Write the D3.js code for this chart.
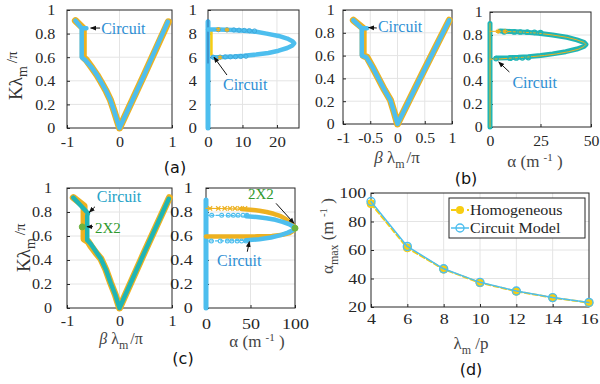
<!DOCTYPE html>
<html>
<head>
<meta charset="utf-8">
<script src="https://cdn.jsdelivr.net/npm/d3@7"></script>
<style>
  body { margin: 0; background: #fff; }
  svg { display: block; }
</style>
</head>
<body>
<svg id="fig" width="600" height="384"></svg>
<script>
// ---------------- data ----------------
const kTicks = [0, 0.2, 0.4, 0.6, 0.8, 1];

// (a) dispersion  (beta*lam_m/pi , K*lam_m/pi)
const aHomBeta = [-0.84, -0.69, -0.69, -0.63, -0.54, -0.43, -0.35, -0.25, -0.175, -0.10, -0.05, 0, 0.46, 0.93];
const aHomK    = [0.91, 0.845, 0.60, 0.575, 0.52, 0.45, 0.39, 0.31, 0.24, 0.14, 0.07, 0, 0.44, 0.90];
const aCirBeta = [-0.84, -0.72, -0.63, -0.72, -0.72, -0.65, -0.54, -0.43, -0.35, -0.25, -0.175, -0.10, -0.05, 0, 0.46, 0.92];
const aCirK    = [0.91, 0.845, 0.845, 0.845, 0.60, 0.575, 0.52, 0.45, 0.39, 0.31, 0.24, 0.14, 0.07, 0, 0.44, 0.90];
// (a) attenuation lobe (alpha, K)
const aLobeA = [0, 3, 7, 10.5, 14, 17, 20.5, 23, 24.5, 25, 24.5, 23, 20.5, 17.5, 14, 10.5, 7.5, 4.5, 1.5];
const aLobeK = [0.834, 0.834, 0.831, 0.825, 0.815, 0.800, 0.780, 0.758, 0.736, 0.718, 0.700, 0.678, 0.655, 0.636, 0.622, 0.612, 0.606, 0.602, 0.600];
const aMarkA = [3, 5.5, 7.5, 9, 10.5, 12, 13.5, 1.5, 3.5, 5, 6.5, 8, 9.5, 11];
const aMarkK = [0.833, 0.832, 0.831, 0.829, 0.827, 0.825, 0.822, 0.600, 0.601, 0.602, 0.603, 0.604, 0.606, 0.608];
const aStarA = [3, 5.5, 3.5];
const aStarK = [0.836, 0.832, 0.598];

// (b) dispersion
const bHomBeta = [-0.81, -0.63, -0.63, -0.56, -0.46, -0.35, -0.24, -0.13, -0.06, 0, 0.47, 0.95];
const bHomK    = [0.91, 0.84, 0.60, 0.585, 0.50, 0.40, 0.30, 0.21, 0.10, 0, 0.455, 0.91];
const bCirBeta = [-0.81, -0.655, -0.56, -0.655, -0.655, -0.57, -0.46, -0.35, -0.24, -0.13, -0.06, 0, 0.47, 0.95];
const bCirK    = [0.91, 0.84, 0.84, 0.84, 0.60, 0.585, 0.50, 0.40, 0.30, 0.21, 0.10, 0, 0.455, 0.91];
// (b) attenuation
const bLobeA = [3, 9, 14, 19, 25, 31, 37.5, 43, 46.5, 47.5, 46.5, 43, 38, 31, 24, 17, 10, 5];
const bLobeK = [0.600, 0.602, 0.606, 0.612, 0.622, 0.636, 0.655, 0.678, 0.700, 0.718, 0.736, 0.758, 0.780, 0.800, 0.815, 0.825, 0.831, 0.834];
const bHomLobeA = [0, 5, 11, 16, 21, 27, 33, 39, 44, 46.5, 47.5, 46.5, 43, 38, 31, 24, 16, 8, 0];
const bHomLobeK = [0.59, 0.592, 0.600, 0.606, 0.612, 0.622, 0.636, 0.655, 0.678, 0.700, 0.718, 0.736, 0.758, 0.780, 0.800, 0.815, 0.825, 0.831, 0.832];
const bMarkA = [7, 12, 15, 18.5, 22, 25, 3, 10, 13, 16, 19];
const bMarkK = [0.828, 0.827, 0.826, 0.825, 0.823, 0.821, 0.595, 0.598, 0.600, 0.602, 0.604];
const bStarA = [4, 7.5];
const bStarK = [0.832, 0.832];

// (c) dispersion (2X2 lattice)
const cHomBeta = [-0.88, -0.675, -0.675, -0.60, -0.55, -0.45, -0.355, -0.26, -0.17, -0.08, 0, 0.47, 0.95];
const cHomK    = [0.92, 0.85, 0.575, 0.555, 0.52, 0.46, 0.41, 0.32, 0.21, 0.11, 0, 0.46, 0.92];
const cCirBeta = [-0.88, -0.60, -0.615, -0.615, -0.55, -0.45, -0.355, -0.26, -0.17, -0.08, 0, 0.47, 0.94];
const cCirK    = [0.92, 0.79, 0.77, 0.565, 0.535, 0.47, 0.41, 0.32, 0.21, 0.11, 0, 0.46, 0.91];
const cEpBeta = [-0.71], cEpK = [0.676];
// (c) attenuation
const cHomLobeA = [0, 15, 28, 40, 50, 60, 68, 76, 84, 90, 95, 98.5, 100, 98.5, 94, 86, 74, 58, 38, 0];
const cHomLobeK = [0.830, 0.829, 0.827, 0.824, 0.819, 0.811, 0.800, 0.785, 0.765, 0.740, 0.712, 0.685, 0.665, 0.645, 0.625, 0.610, 0.601, 0.597, 0.595, 0.595];
const cCirLobeA = [0, 18, 32, 45, 57, 68, 78, 86, 93, 97.5, 100, 97.5, 92, 84, 73, 60, 45, 28, 0];
const cCirLobeK = [0.772, 0.771, 0.769, 0.765, 0.758, 0.748, 0.735, 0.718, 0.700, 0.682, 0.665, 0.648, 0.628, 0.607, 0.588, 0.573, 0.564, 0.560, 0.558];
const cHomMarkA = [4.5, 13.8, 21, 27, 32.6, 38, 43.8];
const cCirMarkTopA = [6.4, 17.6, 25, 30.7, 36, 41.6, 46];
const cCirMarkBotA = [6, 16, 24, 29, 35, 40, 45];
const cEpA = [100], cEpAK = [0.665];

// (d) peak attenuation vs lambda_m/p
const dLam = [4, 6, 8, 10, 12, 14, 16];
const dHom = [92.5, 61.5, 46.5, 37, 31, 26.5, 23];
const dCir = [94, 62.5, 46.8, 37.3, 31.2, 26.6, 23.2];
const dTicksX = [4, 6, 8, 10, 12, 14, 16];
const dTicksY = [20, 40, 60, 80, 100];

// ---------------- styles ----------------
const SERIF = '"Liberation Serif","Times New Roman",serif';
const SANS = '"DejaVu Sans",sans-serif';
const INK = '#262626';
const ORANGE = '#EDB120', BLUE = '#4DBEEE', TEAL = '#1FB5B5', YELLOW = '#F7CD12';
const GREEN = '#6DB33F', TXTBLUE = '#2F8FD4', TXTGREEN = '#2E9A2E';

const svg = d3.select('#fig');
const defs = svg.append('defs');
defs.append('marker').attr('id', 'arr')
  .attr('viewBox', '0 0 10 10').attr('refX', 9).attr('refY', 5)
  .attr('markerWidth', 6).attr('markerHeight', 6).attr('orient', 'auto')
  .append('path').attr('d', 'M0,1L10,5L0,9z').attr('fill', '#111');

function panel(p) {
  const x = d3.scaleLinear().domain(p.xd).range([p.x0, p.x1]);
  const y = d3.scaleLinear().domain(p.yd).range([p.y1, p.y0]);
  const g = svg.append('g');
  g.append('g').selectAll('line')
    .data(p.xt.filter(v => v > p.xd[0] && v < p.xd[1]))
    .join('line')
      .attr('x1', d => x(d)).attr('x2', d => x(d))
      .attr('y1', p.y0).attr('y2', p.y1)
      .attr('stroke', '#e4e4e4');
  g.append('g').selectAll('line')
    .data(p.yt.filter(v => v > p.yd[0] && v < p.yd[1]))
    .join('line')
      .attr('y1', d => y(d)).attr('y2', d => y(d))
      .attr('x1', p.x0).attr('x2', p.x1)
      .attr('stroke', '#e4e4e4');
  const xa = g.append('g')
    .attr('transform', `translate(0,${p.y1})`)
    .call(d3.axisBottom(x).tickValues(p.xt).tickSize(-3).tickPadding(p.xpad || 8).tickFormat(d => String(d)));
  const ya = g.append('g')
    .attr('transform', `translate(${p.x0},0)`)
    .call(d3.axisLeft(y).tickValues(p.yt).tickSize(-3).tickPadding(p.ypad || 9).tickFormat(d => String(d)));
  [xa, ya].forEach(a => {
    a.select('.domain').remove();
    a.selectAll('line').attr('stroke', INK);
    a.selectAll('text')
      .attr('font-family', SERIF).attr('font-size', 15).attr('fill', INK)
      .attr('transform', `scale(${p.sx},1)`);
  });
  if (p.clipX) {
    const id = 'clip' + p.x0;
    defs.append('clipPath').attr('id', id)
      .append('rect').attr('x', p.clipX - p.x0).attr('y', -20).attr('width', 40).attr('height', 400);
    ya.attr('clip-path', `url(#${id})`);
  }
  g.append('rect')
    .attr('x', p.x0).attr('y', p.y0)
    .attr('width', p.x1 - p.x0).attr('height', p.y1 - p.y0)
    .attr('fill', 'none').attr('stroke', INK).attr('stroke-width', 1);
  return { x, y, g: g.append('g') };
}

function pathOf(P, xs, ys, color, width, dash) {
  const line = d3.line().x(d => P.x(d[0])).y(d => P.y(d[1]));
  return P.g.append('path')
    .datum(d3.zip(xs, ys))
    .attr('d', line)
    .attr('fill', 'none').attr('stroke', color).attr('stroke-width', width)
    .attr('stroke-linejoin', 'round').attr('stroke-linecap', 'round')
    .attr('stroke-dasharray', dash || null);
}

function dots(P, xs, ys, shape, size, color, fill, sw) {
  P.g.append('g').selectAll('path')
    .data(d3.zip(xs, ys))
    .join('path')
      .attr('transform', d => `translate(${P.x(d[0])},${P.y(d[1])})`)
      .attr('d', d3.symbol(shape, size))
      .attr('fill', fill || 'none').attr('stroke', color).attr('stroke-width', sw || 1);
}

function label(x, y, parts, opt = {}) {
  const t = svg.append('text')
    .attr('transform', `translate(${x},${y})` + (opt.rot ? ' rotate(-90)' : '') + (opt.sx ? ` scale(${opt.sx},1)` : ''))
    .attr('text-anchor', opt.anchor || 'start')
    .attr('font-family', opt.font || SERIF)
    .attr('font-size', opt.size || 15)
    .attr('fill', opt.color || INK);
  parts.forEach(p => {
    if (typeof p === 'string') p = { t: p };
    const s = t.append('tspan').text(p.t);
    if (p.dy) s.attr('dy', p.dy);
    if (p.dx) s.attr('dx', p.dx);
    if (p.size) s.attr('font-size', p.size);
    if (p.it) s.attr('font-style', 'italic');
  });
  return t;
}

function note(P, textAt, tail, tip, txt, color, size) {
  svg.append('text')
    .attr('x', P.x(textAt[0])).attr('y', P.y(textAt[1]))
    .attr('font-family', SERIF).attr('font-size', size || 16).attr('fill', color)
    .text(txt);
  svg.append('line')
    .attr('x1', P.x(tail[0])).attr('y1', P.y(tail[1]))
    .attr('x2', P.x(tip[0])).attr('y2', P.y(tip[1]))
    .attr('stroke', '#111').attr('stroke-width', 1)
    .attr('marker-end', 'url(#arr)');
}

// ---------------- (a) ----------------
const aL = panel({ x0: 67, x1: 172, y0: 10, y1: 128, xd: [-1, 1], yd: [0, 1], xt: [-1, 0, 1], yt: kTicks, sx: 1.07, ypad: 11 });
pathOf(aL, aHomBeta, aHomK, ORANGE, 7);
pathOf(aL, aCirBeta, aCirK, BLUE, 4.5);
note(aL, [-0.35, 0.80], [-0.37, 0.847], [-0.55, 0.847], 'Circuit', TXTBLUE);

const aR = panel({ x0: 208, x1: 299, y0: 10, y1: 128, xd: [0, 26.4], yd: [0, 1], xt: [0, 10, 20], yt: kTicks, sx: 1.12, ypad: 10, clipX: 189 });
pathOf(aR, [0, 0], [0, 0.9], BLUE, 5);
pathOf(aR, [0, 0], [0.55, 0.92], '#2a6fb0', 1);
pathOf(aR, [1, 1], [0.62, 0.82], YELLOW, 2.5);
pathOf(aR, aLobeA, aLobeK, BLUE, 4.5);
pathOf(aR, [0, 3], [0.834, 0.834], BLUE, 1);
dots(aR, aMarkA, aMarkK, d3.symbolCircle, 14, '#3fa9dc', 'none', 1);
dots(aR, aStarA, aStarK, d3.symbolAsterisk, 16, ORANGE, 'none', 1.2);
note(aR, [4.35, 0.322], [5.5, 0.449], [1.74, 0.60], 'Circuit', TXTBLUE);

// ---------------- (b) ----------------
const bL = panel({ x0: 343, x1: 452, y0: 10, y1: 124, xd: [-1, 1], yd: [0, 1], xt: [-1, -0.5, 0, 0.5, 1], yt: kTicks, sx: 1.05, ypad: 8 });
pathOf(bL, bHomBeta, bHomK, ORANGE, 7);
pathOf(bL, bCirBeta, bCirK, BLUE, 4.5);
note(bL, [-0.36, 0.803], [-0.38, 0.842], [-0.53, 0.846], 'Circuit', TXTBLUE);

const bR = panel({ x0: 490, x1: 591, y0: 12, y1: 127, xd: [0, 50], yd: [0, 1], xt: [0, 25, 50], yt: kTicks, sx: 1.05, ypad: 7, xpad: 8 });
pathOf(bR, [0, 0], [0, 0.9], TEAL, 5);
pathOf(bR, [0, 0], [0, 0.9], ORANGE, 1);
pathOf(bR, bLobeA, bLobeK, TEAL, 5);
pathOf(bR, bHomLobeA, bHomLobeK, ORANGE, 1);
dots(bR, bMarkA, bMarkK, d3.symbolCircle, 16, TEAL, 'none', 1.2);
dots(bR, bStarA, bStarK, d3.symbolAsterisk, 18, ORANGE, 'none', 1.2);
note(bR, [11.1, 0.339], [9.6, 0.478], [4.3, 0.565], 'Circuit', TXTBLUE);

// ---------------- (c) ----------------
const cL = panel({ x0: 67, x1: 172, y0: 188, y1: 308, xd: [-1, 1], yd: [0, 1], xt: [-1, 0, 1], yt: kTicks, sx: 1.07, ypad: 14, xpad: 7 });
pathOf(cL, cHomBeta, cHomK, ORANGE, 7);
pathOf(cL, cCirBeta, cCirK, TEAL, 4.5);
dots(cL, cEpBeta, cEpK, d3.symbolCircle, 28, GREEN, GREEN, 1);
note(cL, [-0.434, 0.883], [-0.467, 0.844], [-0.575, 0.797], 'Circuit', '#26A3C8');
note(cL, [-0.467, 0.625], [-0.505, 0.678], [-0.619, 0.678], '2X2', TXTGREEN, 15);

const cR = panel({ x0: 206, x1: 295, y0: 188, y1: 308, xd: [0, 100], yd: [0, 1], xt: [0, 50, 100], yt: kTicks, sx: 1.2, ypad: 11, xpad: 10 });
pathOf(cR, [0, 0], [0, 0.9], BLUE, 5);
pathOf(cR, cHomLobeA, cHomLobeK, ORANGE, 1.2);
pathOf(cR, cHomLobeA.slice(3), cHomLobeK.slice(3), ORANGE, 4.5);
pathOf(cR, cCirLobeA, cCirLobeK, BLUE, 1.2, '3,2');
pathOf(cR, cCirLobeA.slice(3, 17), cCirLobeK.slice(3, 17), BLUE, 4.5);
dots(cR, cHomMarkA, cHomMarkA.map(() => cHomLobeK[0]), d3.symbolTimes, 14, ORANGE, 'none', 1.2);
dots(cR, cCirMarkTopA, cCirMarkTopA.map(() => cCirLobeK[0]), d3.symbolCircle, 12, BLUE, 'none', 1.1);
dots(cR, cCirMarkBotA, cCirMarkBotA.map(() => cCirLobeK[cCirLobeK.length - 1]), d3.symbolCircle, 12, BLUE, 'none', 1.1);
dots(cR, cEpA, cEpAK, d3.symbolCircle, 28, GREEN, GREEN, 1);
note(cR, [12.4, 0.35], [46.4, 0.469], [48.7, 0.553], 'Circuit', TXTBLUE);
note(cR, [47.2, 0.905], [78.7, 0.872], [98.9, 0.706], '2X2', TXTGREEN, 15);

// ---------------- (d) ----------------
const D = panel({ x0: 371, x1: 589, y0: 193, y1: 307, xd: [4, 16], yd: [20, 100], xt: dTicksX, yt: dTicksY, sx: 1.2, ypad: 4, xpad: 6 });
pathOf(D, dLam, dHom, YELLOW, 2, '5,3');
dots(D, dLam, dHom, d3.symbolCircle, 50, YELLOW, YELLOW, 1);
pathOf(D, dLam, dCir, BLUE, 1.5);
dots(D, dLam, dCir, d3.symbolCircle, 50, BLUE, 'none', 1.4);

// legend
const lg = svg.append('g');
lg.append('rect').attr('x', 449).attr('y', 198).attr('width', 136).attr('height', 40)
  .attr('fill', '#fff').attr('stroke', INK).attr('stroke-width', 1);
lg.append('line').attr('x1', 451).attr('x2', 469).attr('y1', 210).attr('y2', 210)
  .attr('stroke', YELLOW).attr('stroke-width', 2).attr('stroke-dasharray', '5,3');
lg.append('circle').attr('cx', 460).attr('cy', 210).attr('r', 4).attr('fill', YELLOW);
lg.append('line').attr('x1', 451).attr('x2', 469).attr('y1', 228).attr('y2', 228)
  .attr('stroke', BLUE).attr('stroke-width', 1.5);
lg.append('circle').attr('cx', 460).attr('cy', 228).attr('r', 4).attr('fill', 'none')
  .attr('stroke', BLUE).attr('stroke-width', 1.4);
label(470, 215, ['Homogeneous'], { sx: 1.07 });
label(470, 233, ['Circuit Model'], { sx: 1.07 });

// ---------------- axis labels ----------------
const kLabel = [{ t: 'Kλ', size: 19 }, { t: 'm', size: 14, dy: 5 }, { t: '/π', size: 15, dy: -10, dx: 3 }];
label(22, 100, kLabel, { rot: true, color: '#333' });
label(30, 272, kLabel, { rot: true, color: '#333' });

const betaLabel = [{ t: 'β', it: true }, ' λ', { t: 'm', size: 12, dy: 5 }, { t: '/π', dy: -5, dx: 2 }];
label(397, 163, betaLabel, { anchor: 'middle', size: 17, color: '#444' });
label(121, 344, betaLabel, { anchor: 'middle', size: 16, color: '#444' });

const alphaLabel = ['α  (m ', { t: '-1', size: 11, dy: -6 }, { t: ' )', dy: 6 }];
label(535, 167, alphaLabel, { anchor: 'middle', size: 17, color: '#444' });
label(257, 347, alphaLabel, { anchor: 'middle', size: 17, color: '#444' });

label(471, 349, ['λ', { t: 'm', size: 12, dy: 5 }, { t: '  /p', dy: -5 }], { anchor: 'middle', size: 17, color: '#444' });
label(333, 236, ['α', { t: 'max', size: 12, dy: 5 }, { t: '  (m ', dy: -5 }, { t: '-1', size: 11, dy: -6 }, { t: ' )', dy: 6 }],
  { anchor: 'middle', size: 17, color: '#444', rot: true });

// ---------------- panel tags ----------------
label(175, 173, ['(a)'], { anchor: 'middle', font: SANS, size: 16, color: '#111' });
label(466, 184, ['(b)'], { anchor: 'middle', font: SANS, size: 16, color: '#111' });
label(183, 364, ['(c)'], { anchor: 'middle', font: SANS, size: 16, color: '#111' });
label(471, 375, ['(d)'], { anchor: 'middle', font: SANS, size: 16, color: '#111' });
</script>
</body>
</html>
